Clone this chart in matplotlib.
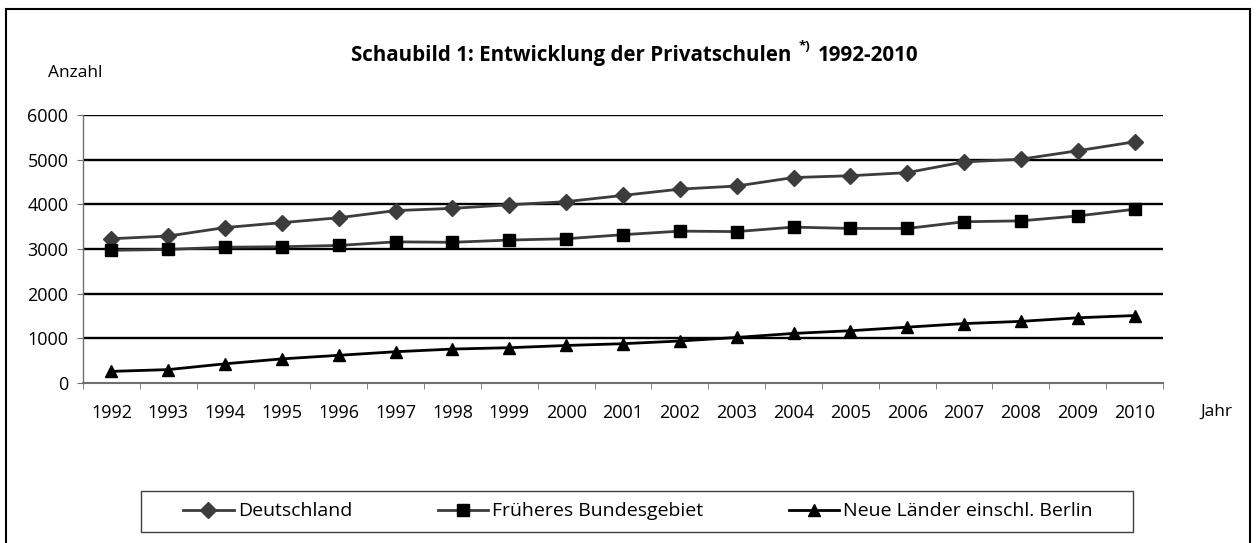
import matplotlib.pyplot as plt
from matplotlib.lines import Line2D
from matplotlib.patches import Rectangle

plt.rcParams['font.family'] = ['Open Sans', 'DejaVu Sans']

years = [str(y) for y in range(1992, 2011)]
deutschland = [3230, 3290, 3480, 3590, 3700, 3860, 3910, 3990, 4060, 4200,
               4340, 4410, 4600, 4640, 4710, 4950, 5010, 5200, 5400]
frueheres = [2970, 2990, 3040, 3050, 3080, 3160, 3150, 3200, 3230, 3320,
             3400, 3390, 3490, 3460, 3460, 3610, 3630, 3740, 3890]
neue = [260, 300, 430, 540, 620, 700, 760, 790, 840, 880,
        940, 1020, 1110, 1170, 1250, 1330, 1380, 1460, 1510]
labels = ['Deutschland', 'Früheres Bundesgebiet', 'Neue Länder einschl. Berlin']

W, H = 1260, 543
fig = plt.figure(figsize=(12.6, 5.43), dpi=100)
ax = fig.add_axes([83 / W, 1 - 383 / H, 1080 / W, 268 / H])

gray = '#3c3c3c'
x = range(len(years))
ax.plot(x, deutschland, color=gray, lw=2, marker='D', ms=8,
        mfc=gray, mec=gray, zorder=4)
ax.plot(x, frueheres, color=gray, lw=2, marker='s', ms=8,
        mfc='black', mec='black', zorder=4)
ax.plot(x, neue, color='black', lw=2, marker='^', ms=9,
        mfc='black', mec='black', zorder=4)

ax.set_xlim(-0.5, len(years) - 0.5)
ax.set_ylim(0, 6000)
for v in range(1000, 7000, 1000):
    ax.axhline(v, color='black', lw=1.7, zorder=2)

ax.set_yticks(range(0, 7000, 1000))
ax.tick_params(axis='y', length=4.5, color='#707070', labelsize=13, pad=6)
ax.set_xticks(list(x))
ax.set_xticklabels(years)
ax.set_xticks([i - 0.5 for i in range(len(years) + 1)], minor=True)
ax.tick_params(axis='x', which='major', length=0, labelsize=13, pad=15)
ax.tick_params(axis='x', which='minor', length=4.5, color='#707070')

for s in ['top', 'right']:
    ax.spines[s].set_visible(False)
ax.spines['left'].set_color('#707070')
ax.spines['bottom'].set_color('#707070')
ax.spines['left'].set_linewidth(1)
ax.spines['bottom'].set_linewidth(1.5)

fig.text(48 / W, 1 - 73 / H, 'Anzahl', fontsize=12.5, va='center')
fig.text(1200 / W, 1 - 412 / H, 'Jahr', fontsize=12.5, va='center')

# title with raised footnote mark
t1 = fig.text(351 / W, 1 - 61 / H, 'Schaubild 1: Entwicklung der Privatschulen',
              fontsize=14.8, fontweight='bold', va='baseline')
t2 = ax.annotate('*)', xy=(1, 0.6), xycoords=t1, xytext=(5, 0),
                 textcoords='offset points', fontsize=9.5,
                 fontweight='bold', va='bottom', ha='left')
ax.annotate('1992-2010', xy=(1, 0), xycoords=t1, xytext=(19, 0),
            textcoords='offset points', fontsize=14.8, fontweight='bold',
            va='bottom', ha='left')

handles = [
    Line2D([], [], color=gray, lw=2, marker='D', ms=8, mfc=gray, mec=gray),
    Line2D([], [], color=gray, lw=2, marker='s', ms=8, mfc='black', mec='black'),
    Line2D([], [], color='black', lw=2, marker='^', ms=9, mfc='black', mec='black'),
]
fig.legend(handles, labels, loc='center', ncol=3,
           bbox_to_anchor=(638 / W, 1 - 511.5 / H),
           fontsize=14, frameon=False, handlelength=2.6,
           handletextpad=0.2, columnspacing=4.4)
fig.patches.append(Rectangle((141 / W, 1 - 532 / H), 992 / W, 41 / H,
                             transform=fig.transFigure, fill=False,
                             edgecolor='#404040', lw=1))

# outer frame (right and bottom edges run off the picture)
fig.patches.append(Rectangle((6 / W, -0.05), 1244 / W, 1 - 9 / H + 0.05,
                             transform=fig.transFigure, fill=False,
                             edgecolor='black', lw=1.5))

fig.savefig('out.png', dpi=100)
